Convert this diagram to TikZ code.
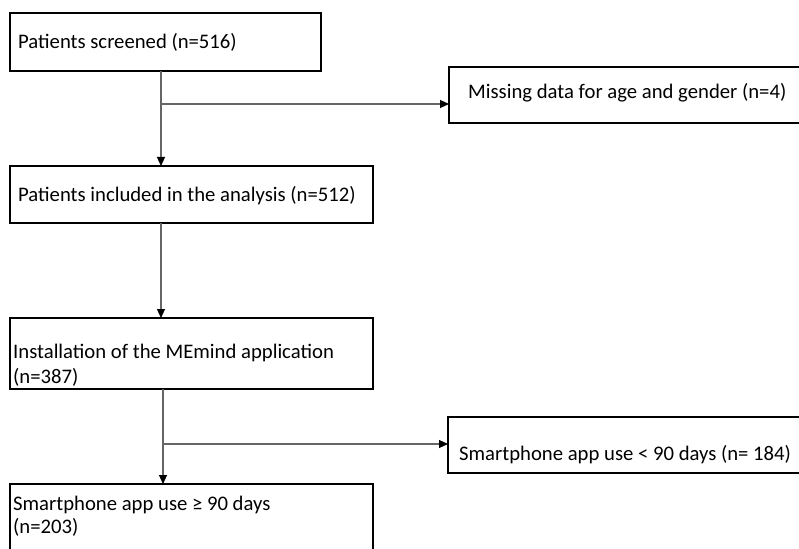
\documentclass[tikz,border=0pt]{standalone}
\usepackage{fontspec}
\setmainfont{Carlito}
\usetikzlibrary{arrows.meta}
\tikzset{
  mainbox/.style={draw=black, line width=2.6pt},
  sidebox/.style={draw=black, line width=1.6pt},
  lbl/.style={inner sep=0pt, anchor=base west, font=\fontsize{20.7}{25}\selectfont},
  conn/.style={draw=black!60, line width=1.1pt},
  arr/.style={conn, -{Triangle[length=9pt,width=8pt,fill=black,color=black]}}
}
\begin{document}
\begin{tikzpicture}[x=1pt,y=-1pt]
\useasboundingbox (0,0) rectangle (799,548);
\clip (0,0) rectangle (799,548);
% boxes
\path[mainbox] (10,13) rectangle (321,71);
\coordinate (b1s) at (161,71);
\path[mainbox] (10,166) rectangle (373,223);
\coordinate (b2n) at (161,166);
\coordinate (b2s) at (161,223);
\path[mainbox] (10,318) rectangle (373,389);
\coordinate (b3n) at (161,318);
\coordinate (b3s) at (163,389);
\path[mainbox] (10,484) rectangle (373,560);
\coordinate (b4n) at (163,484);
\path[sidebox] (449,67) rectangle (812,123);
\coordinate (m1w) at (449,104);
\path[sidebox] (448,417) rectangle (812,473);
\coordinate (m2w) at (448,444);
% labels
\node[lbl] (t1) at (18,49) {Patients screened (n=516)};
\node[lbl] (t2) at (18,201) {Patients included in the analysis (n=512)};
\node[lbl] (t3a) at (13,358) {Installation of the MEmind application};
\node[lbl] (t3b) at (13,383) {(n=387)};
\node[lbl] (t4a) at (13,510) {Smartphone app use ≥ 90 days};
\node[lbl] (t4b) at (13,533) {(n=203)};
\node[lbl] (t5) at (468,99) {Missing data for age and gender (n=4)};
\node[lbl] (t6) at (459,460) {Smartphone app use < 90 days (n= 184)};
% connectors
\coordinate (j1) at (161,104);
\coordinate (j2) at (163,444);
\draw[arr] (b1s) -- (b2n);
\draw[arr] (j1) -- (m1w);
\draw[arr] (b2s) -- (b3n);
\draw[arr] (b3s) -- (b4n);
\draw[arr] (j2) -- (m2w);
\end{tikzpicture}
\end{document}
